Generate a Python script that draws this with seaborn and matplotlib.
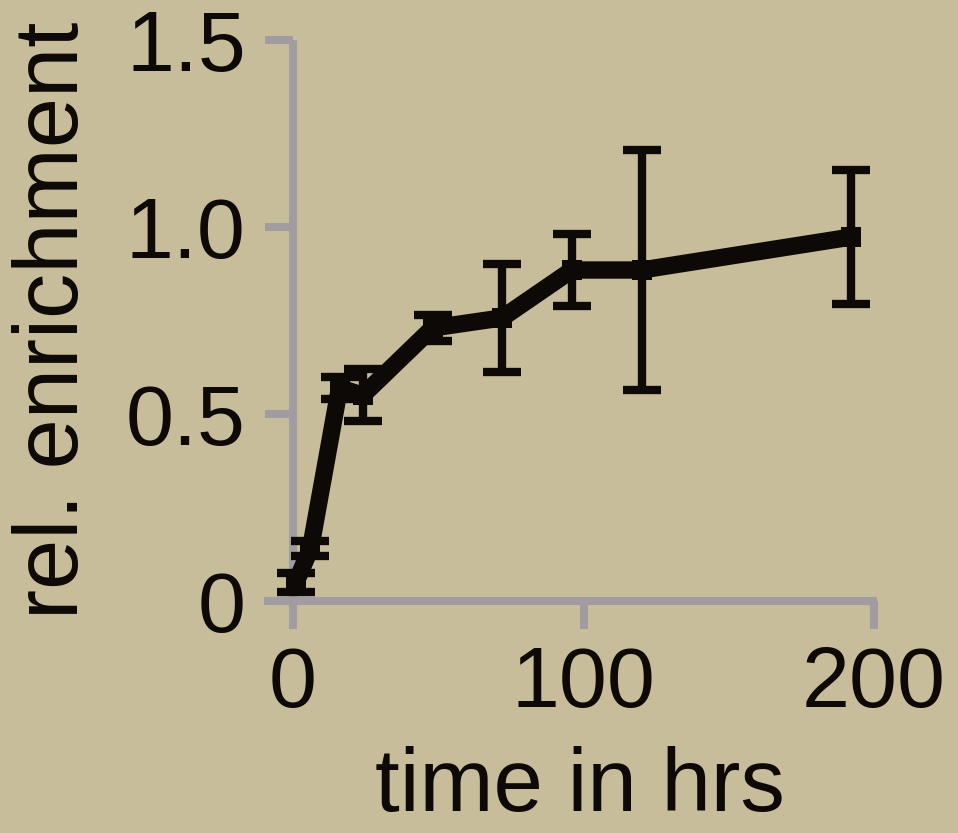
import matplotlib
matplotlib.use("Agg")
import matplotlib.pyplot as plt
import pandas as pd
import seaborn as sns

# values
hours = [1, 6, 16, 24, 48, 72, 96, 120, 192]
enrichment = [0.05, 0.14, 0.57, 0.55, 0.73, 0.757, 0.885, 0.885, 0.973]
error = [0.025, 0.02, 0.03, 0.07, 0.035, 0.145, 0.097, 0.32, 0.18]

x_ticks = [0, 100, 200]
y_ticks = [0, 0.5, 1.0, 1.5]
y_tick_labels = ["0", "0.5", "1.0", "1.5"]

BG = "#c7bd9a"
SPINE = "#a19ca2"
INK = "#0c0906"


def plot_enrichment(df):
    fig = plt.figure(figsize=(9.58, 8.33), dpi=100, facecolor=BG)
    ax = fig.add_axes([264 / 958, 1 - 601 / 833, (877 - 264) / 958, (601 - 40) / 833])
    ax.set_facecolor(BG)

    ax.errorbar(
        df["hours"], df["enrichment"], yerr=df["error"],
        fmt="none", ecolor=INK, elinewidth=6, capsize=14, capthick=6, zorder=3
    )
    sns.lineplot(
        data=df, x="hours", y="enrichment", ax=ax,
        color=INK, linewidth=12.5, marker="s", markersize=15,
        markeredgewidth=0, zorder=4
    )

    ax.set_xlim(-10, 201)
    ax.set_ylim(0, 1.5)
    ax.set_xticks(x_ticks)
    ax.set_yticks(y_ticks)
    ax.set_yticklabels(y_tick_labels)

    for side in ["top", "right"]:
        ax.spines[side].set_visible(False)
    ax.spines["left"].set_position(("data", 0))
    for side in ["left", "bottom"]:
        ax.spines[side].set_color(SPINE)
        ax.spines[side].set_linewidth(5.8)
        ax.spines[side].set_capstyle("butt")

    ax.tick_params(axis="both", direction="out", length=20, width=5.8,
                   color=SPINE, labelcolor=INK, labelsize=62)
    ax.tick_params(axis="x", pad=12)
    ax.tick_params(axis="y", pad=14)

    ax.set_xlabel("time in hrs", fontsize=64, color=INK)
    ax.set_ylabel("rel. enrichment", fontsize=65, color=INK)
    ax.yaxis.set_label_coords(-0.273, 0.5)
    ax.xaxis.set_label_coords(0.515, -0.258)

    fig.savefig("out.png", dpi=100, facecolor=BG)


if __name__ == "__main__":
    sns.set_style("ticks")
    plt.rcParams["font.family"] = ["Liberation Sans", "DejaVu Sans"]
    data = pd.DataFrame({"hours": hours, "enrichment": enrichment, "error": error})
    plot_enrichment(data)
